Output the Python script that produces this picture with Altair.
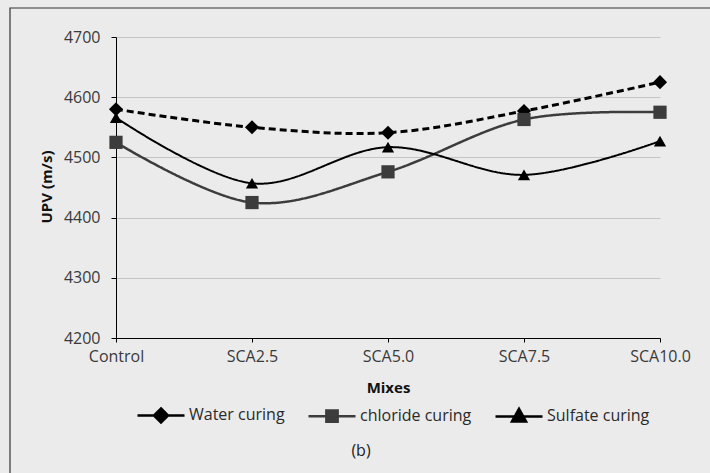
import altair as alt
import pandas as pd

mixes = ["Control", "SCA2.5", "SCA5.0", "SCA7.5", "SCA10.0"]
series_names = ["Water curing", "chloride curing", "Sulfate curing"]
water = [4580, 4550, 4541, 4577, 4625]
chloride = [4525, 4425, 4476, 4563, 4575]
sulfate = [4566, 4457, 4517, 4471, 4527]
y_ticks = [4200, 4300, 4400, 4500, 4600, 4700]
y_title = "UPV (m/s)"
panel_label = "(b)"

rows = []
for name, vals in zip(series_names, [water, chloride, sulfate]):
    for m, v in zip(mixes, vals):
        rows.append({"Mix": m, "Series": name, "UPV": v})
df = pd.DataFrame(rows)

FONT = "Open Sans"
colors = ["#000000", "#3c3c3c", "#000000"]

x_enc = alt.X("Mix:N", sort=mixes, scale=alt.Scale(type="point", padding=0),
              axis=alt.Axis(title="Mixes", labelAngle=0, grid=False, domainColor="#000",
                            tickColor="#000", tickSize=4, labelPadding=6, titlePadding=16,
                            labelFontSize=16, titleFontSize=15, titleFontWeight="bold",
                            labelColor="#3a3a3a", titleColor="#111", labelFont=FONT, titleFont=FONT))
y_enc = alt.Y("UPV:Q", scale=alt.Scale(domain=[4200, 4700], nice=False, zero=False),
              axis=alt.Axis(title=None, values=y_ticks, format="d", grid=True,
                            gridColor="#c4c4c4", domainColor="#000", tickColor="#000", tickSize=5,
                            labelPadding=11, labelFontSize=16, labelColor="#3a3a3a",
                            labelFont=FONT))

base = alt.Chart(df)

lines = base.mark_line(interpolate="cardinal").encode(
    x=x_enc, y=y_enc,
    color=alt.Color("Series:N", scale=alt.Scale(domain=series_names, range=colors), legend=None),
    strokeDash=alt.StrokeDash("Series:N", scale=alt.Scale(domain=series_names, range=[[7, 4], [1, 0], [1, 0]]), legend=None),
    strokeWidth=alt.StrokeWidth("Series:N", scale=alt.Scale(domain=series_names, range=[3, 2, 2]), legend=None),
)

points = base.mark_point(filled=True, opacity=1).encode(
    x=x_enc, y=y_enc,
    color=alt.Color("Series:N", scale=alt.Scale(domain=series_names, range=colors), legend=None),
    shape=alt.Shape("Series:N", scale=alt.Scale(domain=series_names, range=["diamond", "square", "triangle-up"]), legend=None),
    size=alt.Size("Series:N", scale=alt.Scale(domain=series_names, range=[200, 150, 160]), legend=None),
)

legend_paths = [
    "M-1,0H1M0,-0.3L0.3,0L0,0.3L-0.3,0Z",
    "M-1,0H1M-0.24,-0.24H0.24V0.24H-0.24Z",
    "M-1,0H1M0,-0.32L0.3,0.22H-0.3Z",
]

leg = base.transform_calculate(Legend="datum.Series").transform_filter("false").mark_point(
    filled=True, opacity=1
).encode(
    x=x_enc, y=y_enc,
    fill=alt.Fill("Legend:N", scale=alt.Scale(domain=series_names, range=colors),
                  legend=alt.Legend(title=None, orient="none", direction="horizontal",
                                    legendX=20, legendY=353, symbolSize=2209,
                                    symbolStrokeWidth=2.5, symbolOpacity=1,
                                    labelFontSize=16, labelFont=FONT,
                                    labelColor="#2a2a2a", labelOffset=3, columnPadding=18)),
    stroke=alt.Stroke("Legend:N", scale=alt.Scale(domain=series_names, range=colors)),
    shape=alt.Shape("Legend:N", scale=alt.Scale(domain=series_names, range=legend_paths)),
)

frame = alt.Chart(pd.DataFrame({"a": [0]})).mark_rect(fill=None, stroke="#333", strokeWidth=1.2).encode(
    x=alt.value(-106), x2=alt.value(640), y=alt.value(-29), y2=alt.value(470)
)

ytitle = alt.Chart(pd.DataFrame({"t": [y_title]})).mark_text(
    angle=270, font=FONT, fontSize=15, fontWeight="bold", color="#111", baseline="middle", align="center"
).encode(text="t:N", x=alt.value(-69), y=alt.value(150))

btitle = alt.Chart(pd.DataFrame({"t": [panel_label]})).mark_text(
    font=FONT, fontSize=16, color="#222", baseline="middle", align="center"
).encode(text="t:N", x=alt.value(245), y=alt.value(414))

chart = alt.layer(frame, lines, points, leg, ytitle, btitle).resolve_scale(
    shape="independent", color="independent", fill="independent", stroke="independent"
).properties(
    width=544, height=301,
    autosize=alt.AutoSizeParams(type="none"),
    padding={"left": 116, "top": 37, "right": 50, "bottom": 135},
    background="#ebebeb",
).configure_view(stroke=None)

chart.save("out.html", embed_options={"renderer": "svg", "actions": False})
